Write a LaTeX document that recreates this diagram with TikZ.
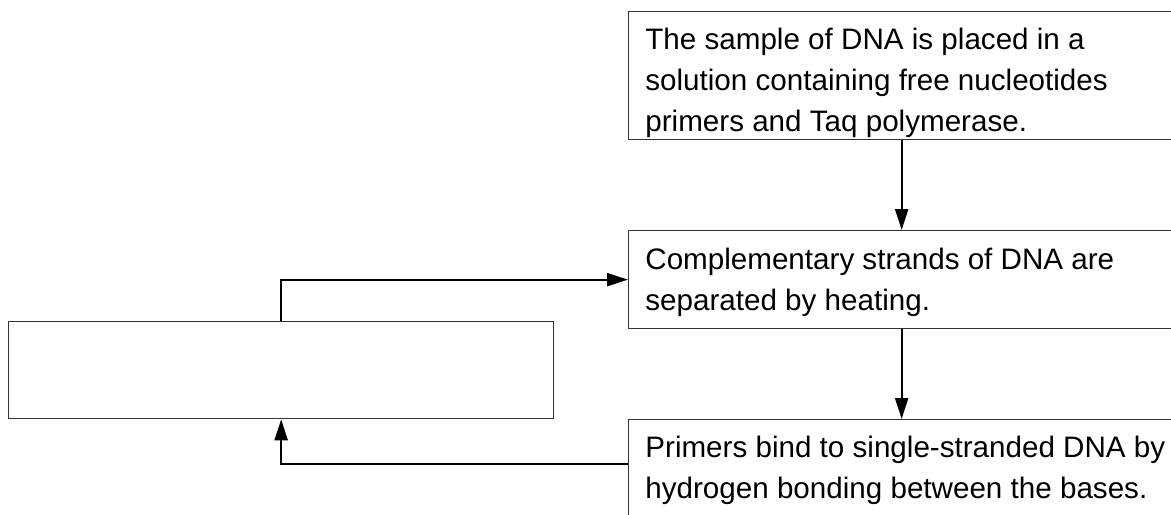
\documentclass[tikz,border=0pt]{standalone}
\usepackage{fontspec}
\setmainfont{Liberation Sans}
\usetikzlibrary{arrows.meta, positioning}

\tikzset{
  stepbox/.style={draw=black!80, line width=0.65pt, minimum width=273pt, inner sep=0pt, anchor=north west},
  steptext/.style={anchor=north west, inner sep=0pt, align=left, font=\fontsize{14.8}{20.5}\selectfont},
  flow/.style={line width=1.1pt, -{Triangle[length=10.5pt,width=6.5pt]}},
}

\begin{document}
\begin{tikzpicture}[x=0.5pt,y=-0.5pt]
        \path[use as bounding box, clip] (0,0) rectangle (1171,514);
        % Boxes
        \node[stepbox, minimum height=64pt] (sample) at (628,11) {};
        \node[stepbox, minimum height=49pt] (heat) at (628,230) {};
        \node[stepbox, minimum height=65pt] (primers) at (628,419) {};
        \node[stepbox, minimum width=272.5pt, minimum height=48.5pt] (empty) at (8,321) {};
        % Texts
        \node[steptext] (sampletext) at ([xshift=8.5pt,yshift=-8.5pt]sample.north west)
          {The sample of DNA is placed in a\\solution containing free nucleotides\\primers and Taq polymerase.};
        \node[steptext] (heattext) at ([xshift=8.5pt,yshift=-9pt]heat.north west)
          {Complementary strands of DNA are\\separated by heating.};
        \node[steptext] (primerstext) at ([xshift=8.5pt,yshift=-8.5pt]primers.north west)
          {Primers bind to single-stranded DNA by\\hydrogen bonding between the bases.};
        % Arrows
        \draw[flow] (sample) -- (heat);
        \draw[flow] (heat) -- (primers);
        \draw[flow] (empty.north) |- (heat.west);
        \coordinate (back) at ([yshift=-22.5pt]primers.north west);
        \draw[flow] (back) -| (empty.south);
\end{tikzpicture}
\end{document}
